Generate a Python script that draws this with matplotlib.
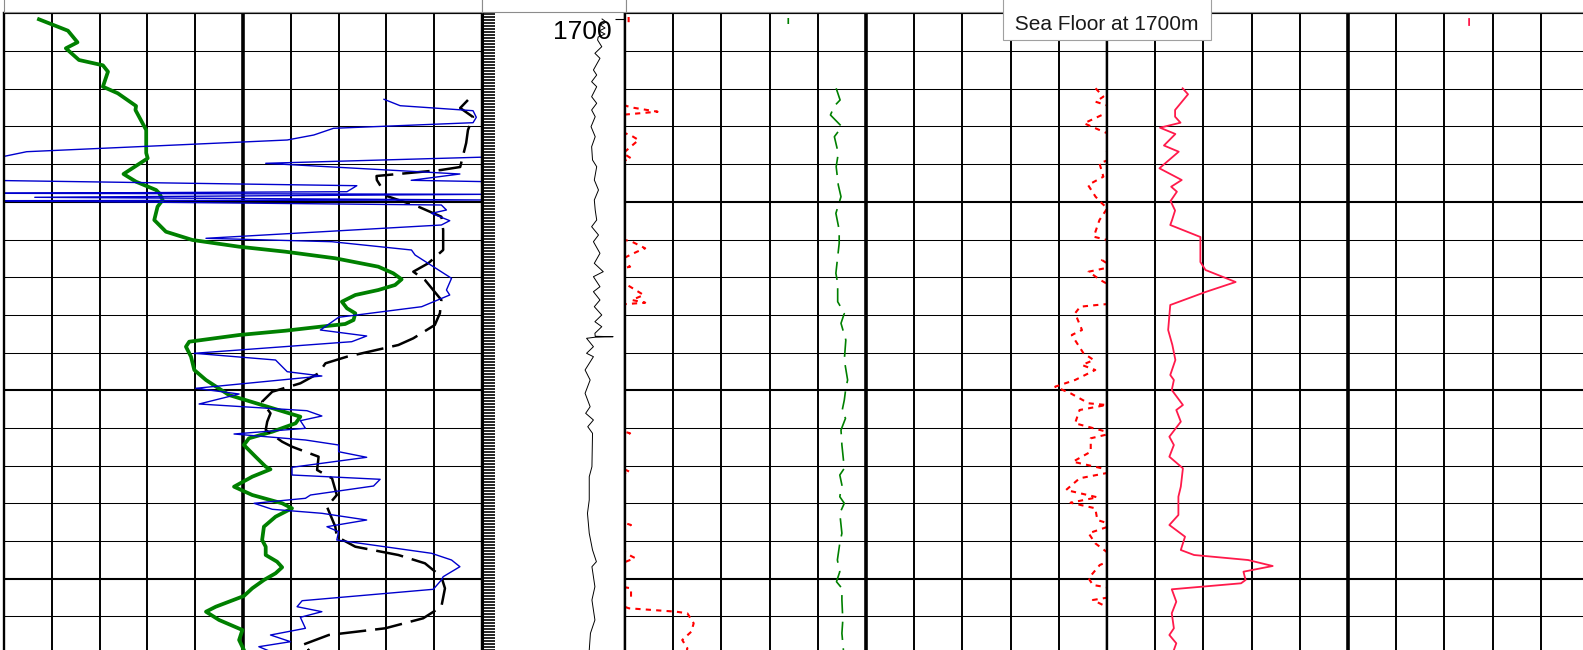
import numpy as np
import matplotlib
matplotlib.use("Agg")
import matplotlib.pyplot as plt
import matplotlib.transforms as mtransforms
from matplotlib.patches import Rectangle
from matplotlib.ticker import MultipleLocator, FixedLocator, NullLocator

plt.rcParams['font.family'] = ['Liberation Sans', 'DejaVu Sans']

nan = np.nan

# depth window shown (m), grid spacing and the sea floor marker
top_depth = 1699.43
base_depth = 1763.1
grid_step = 3.77
sea_floor = 1700

# ---------------- track 1 (all curves on a 0-160 scale) ----------------
gr_depth = [1700.03, 1701.17, 1702.33, 1702.93, 1704.10, 1704.63, 1705.27, 1706.77, 1707.43, 1708.70,
            1709.10, 1711.10, 1713.40, 1713.93, 1715.50, 1716.27, 1717.10, 1717.43, 1718.10, 1718.77,
            1720.10, 1721.27, 1722.10, 1722.77, 1723.27, 1723.93, 1724.77, 1725.43, 1726.03, 1726.60,
            1727.10, 1727.60, 1728.27, 1728.93, 1729.43, 1730.10, 1730.50, 1730.77, 1731.17, 1731.60,
            1732.27, 1732.77, 1733.77, 1735.10, 1736.10, 1737.60, 1739.77, 1740.43, 1741.27, 1741.93,
            1742.60, 1743.77, 1744.77, 1745.03, 1745.77, 1746.77, 1747.60, 1748.43, 1748.93, 1749.77,
            1750.77, 1752.10, 1752.77, 1753.60, 1754.27, 1754.83, 1755.43, 1756.10, 1756.93, 1757.70,
            1758.77, 1759.27, 1760.10, 1761.10, 1762.10, 1763.10, 1764.10]
gr_val = [11.7, 21.4, 24.6, 20.7, 25.1, 33.1, 34.8, 33.1, 38.1, 44.2,
          44.0, 47.6, 47.6, 48.1, 40.0, 44.2, 50.9, 52.0, 53.1, 51.4,
          50.3, 54.2, 63.1, 78.7, 94.2, 110.9, 125.3, 130.3, 133.1, 130.9,
          125.3, 117.6, 113.1, 114.8, 117.6, 117.0, 114.2, 105.9, 94.2, 78.7,
          62.0, 60.9, 62.6, 63.7, 67.6, 75.3, 99.2, 97.6, 89.8, 82.0,
          80.3, 84.2, 87.6, 89.2, 83.1, 77.0, 83.1, 93.1, 96.4, 90.9,
          87.0, 86.4, 87.6, 87.6, 91.4, 93.1, 90.9, 87.0, 83.1, 80.3,
          70.9, 67.6, 72.0, 79.8, 78.7, 80.3, 81.3]

res_depth = [1708.03, 1708.67, 1709.17, 1709.83, 1710.37, 1710.93, 1711.60, 1712.10, 1713.27, 1713.80, nan,
             1713.80, 1714.43, 1715.50, 1716.13, 1716.27, nan,
             1716.15, 1716.67, 1717.27, 1717.43, 1717.53, 1717.83, 1718.10, 1718.17, 1718.60, 1719.10,
             1719.43, 1720.17, 1720.60, 1721.93, 1722.27, 1723.10, 1723.60, 1725.93, 1727.10, 1727.60,
             1728.77, 1729.83, 1731.10, 1731.70, 1732.27, 1733.43, 1734.10, 1735.27, 1735.70, 1736.93,
             1737.50, 1738.50, 1739.17, 1739.70, 1740.17, 1740.93, 1741.50, 1742.10, 1742.60, 1743.27,
             1743.83, 1744.83, 1745.60, 1746.03, 1746.70, 1747.60, 1747.93, 1748.43, 1749.03, 1749.43,
             1750.10, 1750.77, 1751.27, 1752.10, 1753.43, 1754.10, 1754.77, 1755.77, 1756.10, 1757.03,
             1758.17, 1758.77, 1759.27, 1759.83, 1760.93, 1761.60, 1762.27, 1762.77, 1763.60]
res_val = [127.2, 132.6, 157.0, 158.1, 157.0, 110.3, 103.7, 94.8, 7.6, -1.0, nan,
           162.0, 87.6, 152.6, 136.3, 162.0, nan,
           -2.0, 118.1, 114.8, -2.0, 162.0, 10.3, 162.0, -2.0, 146.4, 148.1,
           143.1, 149.2, 146.4, 67.6, 109.7, 136.4, 137.6, 149.8, 148.1, 149.2,
           139.8, 112.0, 105.9, 121.4, 116.4, 63.7, 90.9, 94.8, 106.4, 64.2,
           78.7, 65.3, 101.4, 106.4, 99.2, 100.9, 77.0, 100.9, 112.0, 112.0,
           121.4, 96.4, 96.4, 125.9, 123.7, 102.6, 100.9, 83.7, 89.8, 106.4,
           121.4, 108.1, 112.0, 111.4, 143.1, 149.8, 152.6, 147.0, 146.4, 143.7,
           99.8, 98.1, 106.4, 99.2, 100.9, 89.2, 95.9, 85.3, 92.0]

cal_depth = [1708.10, 1708.90, 1709.80, 1711.10, 1712.40, 1714.80, 1715.10, 1715.70, 1716.10, 1717.70,
             1718.77, 1719.77, 1721.10, 1723.10, 1724.43, 1725.27, 1726.10, 1728.10, 1729.43, 1730.60,
             1731.93, 1732.60, 1733.77, 1734.43, 1735.43, 1736.43, 1737.27, 1738.27, 1739.43, 1740.27,
             1741.10, 1742.27, 1742.77, 1743.77, 1745.10, 1745.93, 1747.60, 1748.77, 1750.77, 1751.77,
             1752.77, 1753.60, 1754.43, 1755.77, 1756.93, 1758.77, 1759.93, 1760.93, 1761.60, 1762.60,
             1763.10, 1764.10]
cal_val = [155.3, 152.7, 157.0, 155.3, 154.7, 152.7, 146.3, 124.7, 124.8, 128.1,
           138.7, 146.4, 147.0, 147.0, 142.0, 137.0, 140.9, 146.4, 145.9, 144.2,
           137.0, 132.0, 114.8, 107.6, 105.3, 99.2, 89.8, 86.4, 89.2, 88.1,
           87.6, 93.1, 96.4, 105.3, 104.8, 109.8, 111.4, 108.1, 110.9, 111.4,
           117.6, 132.0, 140.9, 146.4, 147.6, 146.4, 140.3, 127.6, 108.7, 99.8,
           102.0, 98.7]

# ---------------- depth track curve (0-48 scale) ----------------
dc_depth = [1700.0, 1700.3, 1700.6, 1700.9, 1701.2, 1701.5, 1701.8, 1702.1, 1702.77, 1703.43,
            1703.93, 1705.1, 1705.6, 1706.27, 1706.77, 1707.77, 1708.43, 1709.1, 1709.77, 1710.77,
            1711.77, 1712.77, 1714.1, 1714.77, 1716.1, 1717.1, 1718.1, 1719.1, 1720.1, 1720.77,
            1721.6, 1722.27, 1723.43, 1724.43, 1725.27, 1725.77, 1726.77, 1727.27, 1728.1, 1728.77,
            1729.6, 1730.27, 1730.77, 1731.43, 1731.73, 1731.77, 1731.82, 1731.93, 1732.77, 1733.43,
            1733.77, 1735.1, 1736.1, 1737.43, 1738.77, 1739.43, 1740.1, 1740.77, 1741.43, 1744.77,
            1745.77, 1748.1, 1749.43, 1751.43, 1753.1, 1754.27, 1754.77, 1756.77, 1758.1, 1760.1,
            1761.43, 1763.1]
dc_val = [40.3, 41.7, 39.7, 41.3, 39.3, 41.3, 39.0, 38.8, 40.2, 37.9,
          39.6, 37.4, 38.5, 36.8, 38.5, 36.8, 38.5, 36.8, 38.0, 36.6,
          38.0, 36.8, 37.1, 38.5, 37.7, 39.1, 37.7, 38.0, 38.5, 36.8,
          39.1, 37.4, 39.6, 37.7, 40.7, 37.4, 39.6, 37.4, 39.6, 37.7,
          40.2, 37.9, 40.2, 37.9, 38.0, 44.0, 38.0, 35.1, 37.4, 35.1,
          37.4, 34.6, 36.3, 34.6, 36.3, 34.8, 37.4, 35.5, 37.1, 36.9,
          36.0, 36.0, 35.4, 36.0, 37.1, 38.4, 36.9, 37.9, 36.9, 37.9,
          36.4, 36.0]

# ---------------- track 3 (0-160 scale, red curve wraps) ----------------
dt_depth = [1699.9, 1700.5, nan, 1706.93, 1708.1, 1708.7, 1709.6, 1710.77, 1711.77, 1713.43,
            1714.77, 1716.6, 1717.77, 1719.43, 1721.1, 1722.43, 1725.43, 1726.43, 1728.27, 1729.43,
            1730.43, 1732.1, 1734.1, 1736.1, 1736.93, 1738.1, 1739.27, 1739.93, 1741.1, 1742.6,
            1744.93, 1745.6, 1746.6, 1747.77, 1748.43, 1749.43, 1751.43, 1752.43, 1754.1, 1755.27,
            1756.27, 1756.93, 1758.1, 1760.1, 1761.43, 1763.1]
dt_val = [54.2, 54.2, nan, 70.1, 71.4, 69.5, 68.2, 72.0, 69.5, 70.8,
          70.1, 70.8, 71.7, 70.0, 71.1, 71.1, 70.0, 70.6, 70.6, 72.8,
          71.7, 73.3, 72.8, 73.9, 73.3, 72.8, 72.0, 73.2, 71.7, 72.0,
          72.8, 71.3, 72.0, 71.3, 72.8, 71.3, 72.0, 71.3, 70.5, 71.3,
          70.2, 72.0, 72.0, 72.3, 72.0, 72.5]

rd_depth = [1699.8, 1700.6, nan, 1706.93, 1707.77, 1708.27, 1708.83, 1709.27, 1709.6, 1710.43,
            1711.1, 1711.7, 1712.1, 1712.77, 1713.43, 1713.93, 1714.43, 1715.77, 1716.6, 1717.77,
            1718.43, 1718.93, 1720.1, 1721.77, 1722.27, 1722.93, 1723.27, 1723.6, 1724.1, 1724.77,
            1725.27, 1726.1, 1726.77, 1727.6, 1728.1, 1728.37, 1728.55, 1728.77, 1729.43, 1731.1,
            1731.6, 1733.43, 1734.1, 1734.6, 1735.1, 1736.1, 1736.77, 1737.43, 1738.43, 1738.6,
            1739.1, 1740.43, 1741.27, 1741.43, 1741.93, 1743.27, 1744.27, 1745.03, 1745.3, 1745.93,
            1747.1, 1747.83, 1748.37, 1748.93, 1750.1, 1750.6, 1751.43, 1752.43, 1753.27, 1753.7,
            1753.9, 1754.6, 1755.93, 1756.6, 1756.93, 1757.77, 1758.1, 1758.77, 1758.93, 1759.27,
            1759.43, 1760.43, 1761.27, 1762.1, 1762.93, 1763.9]
rd_val = [1.2, 1.2, nan, 156.2, 158.8, 156.2, 161.9, 170.8, 158.3, 152.4,
          157.5, 162.3, 164.5, 161.9, 159.4, 162.0, 157.5, 158.8, 153.7, 156.2,
          158.3, 160.1, 157.5, 155.6, 162.3, 166.7, 164.0, 161.7, 158.3, 161.7,
          153.9, 157.8, 161.7, 166.2, 162.3, 166.7, 158.3, 151.1, 149.4, 151.7,
          148.3, 152.2, 155.6, 151.7, 156.1, 149.4, 142.8, 147.9, 153.9, 159.8,
          150.9, 149.4, 159.8, 161.7, 154.6, 154.6, 148.7, 159.8, 161.7, 150.9,
          146.4, 156.8, 147.9, 156.1, 156.8, 162.0, 153.9, 156.1, 159.8, 162.0,
          163.3, 157.6, 153.9, 155.3, 162.0, 162.0, 155.3, 159.8, 161.3, 177.0,
          180.7, 182.8, 182.0, 179.0, 180.7, 180.0]

# ---------------- track 4 (0-160 scale) ----------------
cr_depth = [1700.0, 1700.6, nan, 1706.93, 1707.53, 1709.1, 1709.77, 1710.37, 1710.87, 1711.5,
            1712.65, 1713.27, 1714.93, 1716.1, 1716.77, 1717.27, 1718.2, 1719.15, 1720.1, 1720.6,
            1721.8, 1724.3, 1725.1, 1726.3, 1727.3, 1728.6, 1731.1, 1732.6, 1734.1, 1735.6,
            1736.1, 1737.1, 1738.6, 1739.1, 1740.27, 1741.77, 1742.6, 1743.77, 1744.93, 1746.77,
            1747.77, 1749.6, 1750.6, 1751.77, 1753.1, 1753.6, 1754.1, 1754.7, 1755.27, 1756.1,
            1756.43, 1757.03, 1758.27, 1759.43, 1760.93, 1761.6, 1762.43, 1763.1]
cr_val = [120.2, 120.2, nan, 25.1, 26.9, 22.6, 22.6, 24.4, 17.6, 22.7,
          18.9, 23.8, 17.4, 24.8, 21.3, 23.2, 21.1, 22.6, 21.6, 21.0,
          31.0, 31.0, 32.7, 42.7, 32.7, 21.0, 20.3, 21.7, 22.7, 21.0,
          22.2, 21.5, 25.2, 23.0, 24.5, 20.7, 22.2, 20.7, 25.2, 24.5,
          23.7, 23.7, 20.7, 25.9, 24.5, 28.9, 46.8, 55.0, 45.3, 46.0,
          44.5, 21.5, 23.0, 21.5, 22.2, 20.7, 23.0, 22.2]

TRACK_MAX = 160

W, H = 1583, 650
fig = plt.figure(figsize=(W / 100, H / 100), dpi=100)


def add_track(x0, x1):
    return fig.add_axes([x0 / W, 0, (x1 - x0) / W, (H - 13.3) / H])


ax1 = add_track(4, 482)
axd = add_track(482, 625)
ax3 = add_track(625, 1107)
ax4 = add_track(1107, 1589)   # runs past the right edge of the picture

grid_major = np.arange(top_depth, base_depth, 5 * grid_step)
grid_minor = np.arange(top_depth, base_depth, grid_step)

for ax in (ax1, ax3, ax4):
    ax.set_xlim(0, TRACK_MAX)
    ax.set_ylim(base_depth, top_depth)
    ax.xaxis.set_major_locator(MultipleLocator(TRACK_MAX / 10))
    ax.yaxis.set_major_locator(FixedLocator(grid_major))
    ax.yaxis.set_minor_locator(FixedLocator(grid_minor))
    ax.set_axisbelow(True)
    ax.grid(True, axis='x', which='major', color='black', lw=1.4)
    ax.grid(True, axis='y', which='major', color='black', lw=1.5)
    ax.grid(True, axis='y', which='minor', color='black', lw=0.75)
    ax.axvline(TRACK_MAX / 2, color='black', lw=2.6, zorder=1)
    ax.tick_params(which='both', length=0, labelbottom=False, labelleft=False)
    ax.spines['bottom'].set_visible(False)
    ax.spines['top'].set_linewidth(1.5)
    ax.spines['left'].set_linewidth(1.7)
    ax.spines['right'].set_linewidth(1.7)

# depth track: sample marks on the left, depth tick on the right
axd.set_xlim(0, 48)
axd.set_ylim(base_depth, top_depth)
axd.xaxis.set_major_locator(NullLocator())
axd.yaxis.set_major_locator(MultipleLocator(100))
axd.yaxis.set_minor_locator(MultipleLocator(0.3))
axd.tick_params(axis='y', which='minor', left=True, right=False, direction='in',
                length=9, width=1.2)
axd.tick_params(axis='y', which='major', left=False, right=True, direction='in',
                length=7, width=0.8, labelleft=False, labelright=False)
for s in ('top', 'bottom'):
    axd.spines[s].set_visible(False)
axd.spines['left'].set_linewidth(2.2)
axd.spines['right'].set_linewidth(1.7)

# curves
ax1.plot(gr_val, gr_depth, color='#008000', lw=2.7, solid_joinstyle='round')
ax1.plot(cal_val, cal_depth, color='black', lw=1.8, dashes=(11, 3.6))
ax1.plot(res_val, res_depth, color='#0000cd', lw=1.0)

axd.plot(dc_val, dc_depth, color='black', lw=0.7)

ax3.plot(dt_val, dt_depth, color='#008000', lw=1.2, dashes=(11, 5))
rd = np.array(rd_val)
ax3.plot(rd, rd_depth, color='red', lw=1.5, dashes=(2.5, 2.5))
ax3.plot(rd - TRACK_MAX, rd_depth, color='red', lw=1.5, dashes=(2.5, 2.5))

ax4.plot(cr_val, cr_depth, color='#ff1a4b', lw=1.3)

# header boxes above the tracks (cut by the top of the picture)
for x0, x1 in ((4, 482), (482, 626), (626, 1107), (1107, 1589)):
    hx = fig.add_axes([x0 / W, (H - 11.5) / H, (x1 - x0) / W, 30 / H])
    hx.set_xticks([])
    hx.set_yticks([])
    for s in hx.spines.values():
        s.set_color('#8c8c8c')
        s.set_linewidth(0.8)

# depth label
blend_d = mtransforms.blended_transform_factory(axd.transAxes, axd.transData)
axd.annotate(str(sea_floor), xy=(1, sea_floor), xycoords=blend_d, xytext=(-9.6, -14.4),
             textcoords='offset points', ha='right', va='baseline', fontsize=19,
             annotation_clip=False)

# sea floor note, centred on the track 3 / track 4 boundary
blend4 = mtransforms.blended_transform_factory(ax4.transAxes, ax4.transData)
shift = mtransforms.ScaledTranslation(0, -0.147, fig.dpi_scale_trans)
note = fig.text(0, sea_floor, ' Sea Floor at %dm ' % sea_floor, transform=blend4 + shift,
                ha='center', va='bottom', fontsize=15, color='#1a1a1a', zorder=5)

# its box runs up past the top of the picture
fig.canvas.draw()
bb = note.get_window_extent().transformed(fig.transFigure.inverted())
pad_x, pad_y = 6.3 / W, 6.3 / H
fig.add_artist(Rectangle((bb.x0 - pad_x, bb.y0 - pad_y), bb.width + 2 * pad_x,
                         1.1 - (bb.y0 - pad_y), transform=fig.transFigure,
                         fc='white', ec='#a0a0a0', lw=0.8, zorder=4))

fig.savefig('out.png', dpi=100)
